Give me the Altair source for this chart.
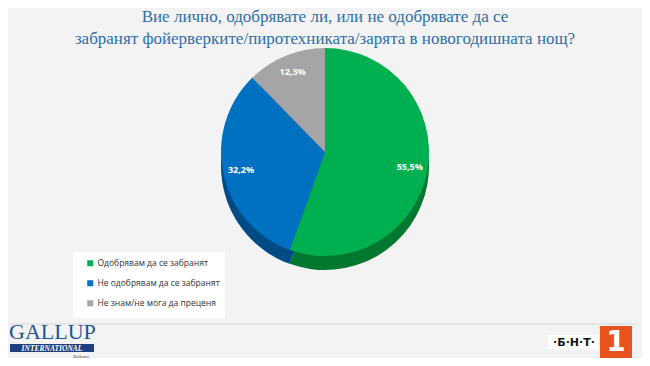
import altair as alt
import pandas as pd

categories = ["Одобрявам да се забранят", "Не одобрявам да се забранят", "Не знам/не мога да преценя"]
values = [55.5, 32.2, 12.3]
labels = ["55,5%", "32,2%", "12,3%"]
colors = ["#00b050", "#0070c0", "#a5a5a5"]
side_colors = ["#00782f", "#004a86", "#7a7a7a"]
title_lines = ["Вие лично, одобрявате ли, или не одобрявате да се",
               "забранят фойерверките/пиротехниката/зарята в новогодишната нощ?"]

df = pd.DataFrame({"cat": categories, "val": values, "lab": labels, "ord": [0, 1, 2]})

CX, CY, R = 317, 144, 104
DEPTH = 14

color_scale = alt.Scale(domain=categories, range=colors)
side_scale = alt.Scale(domain=categories, range=side_colors)

base = alt.Chart(df)
dummy = alt.Chart(alt.Data(values=[{}]))

legend_box = dummy.mark_rect(color="white").encode(
    x=alt.value(65), x2=alt.value(217), y=alt.value(244), y2=alt.value(310))

sep = dummy.mark_rule(color="#d6d6d6", strokeWidth=1).encode(
    x=alt.value(2), x2=alt.value(630), y=alt.value(316))

side = base.mark_arc(radius=R, stroke=None).encode(
    theta=alt.Theta("val:Q", stack=True),
    order=alt.Order("ord:Q"),
    fill=alt.Fill("cat:N", scale=side_scale, legend=None),
    x=alt.value(CX), y=alt.value(CY + DEPTH))

top = base.mark_arc(radius=R).encode(
    theta=alt.Theta("val:Q", stack=True),
    order=alt.Order("ord:Q"),
    color=alt.Color("cat:N", scale=color_scale, sort=categories,
                    legend=alt.Legend(title=None, orient="none", legendX=78, legendY=251,
                                      symbolType="square", symbolSize=36,
                                      labelFontSize=8.5, labelColor="#333333",
                                      labelFont="Open Sans", rowPadding=11,
                                      symbolStrokeWidth=0, labelOffset=3)),
    x=alt.value(CX), y=alt.value(CY))

text = base.mark_text(radius=86, color="white", fontWeight="bold", fontSize=9,
                      font="Open Sans").encode(
    theta=alt.Theta("val:Q", stack=True),
    order=alt.Order("ord:Q"),
    text="lab:N",
    x=alt.value(CX), y=alt.value(CY))

t1 = dummy.mark_text(text=title_lines[0], font="Liberation Serif", fontSize=17,
                     color="#2e6fa8", align="center", baseline="middle").encode(
    x=alt.value(317), y=alt.value(9))
t2 = dummy.mark_text(text=title_lines[1], font="Liberation Serif", fontSize=17,
                     color="#2e6fa8", align="center", baseline="middle").encode(
    x=alt.value(317), y=alt.value(31))

gallup = dummy.mark_text(text="GALLUP", font="Liberation Serif", fontSize=22,
                         color="#1f5596", align="left", baseline="alphabetic").encode(
    x=alt.value(1), y=alt.value(331))
intl_bar = dummy.mark_rect(color="#1f3f7e").encode(
    x=alt.value(2), x2=alt.value(86), y=alt.value(336), y2=alt.value(344))
intl = dummy.mark_text(text="INTERNATIONAL", font="Liberation Serif", fontSize=7.5,
                       fontStyle="italic", fontWeight="bold", color="white",
                       align="center", baseline="middle").encode(
    x=alt.value(44), y=alt.value(340.5))
balk = dummy.mark_text(text="Balkans", font="Liberation Serif", fontSize=5,
                       color="#555555", align="center", baseline="middle").encode(
    x=alt.value(73), y=alt.value(347.5))

bnt_bg = dummy.mark_rect(color="white").encode(
    x=alt.value(540), x2=alt.value(591), y=alt.value(327), y2=alt.value(341))
bnt = dummy.mark_text(text="·Б·Н·Т·", font="DejaVu Sans", fontSize=11, fontWeight="bold",
                      color="#111111", align="center", baseline="middle").encode(
    x=alt.value(566), y=alt.value(334.5))
one_bg = dummy.mark_rect(color="#e8531f").encode(
    x=alt.value(592), x2=alt.value(624), y=alt.value(318), y2=alt.value(350))
one = dummy.mark_text(text="1", font="DejaVu Sans", fontSize=28, fontWeight="bold",
                      color="white", align="center", baseline="middle").encode(
    x=alt.value(608), y=alt.value(335))

chart = alt.layer(legend_box, sep, side, top, text, t1, t2,
                  gallup, intl_bar, intl, balk, bnt_bg, bnt, one_bg, one).resolve_scale(
    color="independent", fill="independent").properties(
    width=634, height=350,
    autosize=alt.AutoSizeParams(type="fit", contains="padding"),
    padding=0, background="#f3f3f3"
).configure_view(strokeWidth=0)

chart.save("out.html", embed_options={"renderer": "svg", "actions": False})
